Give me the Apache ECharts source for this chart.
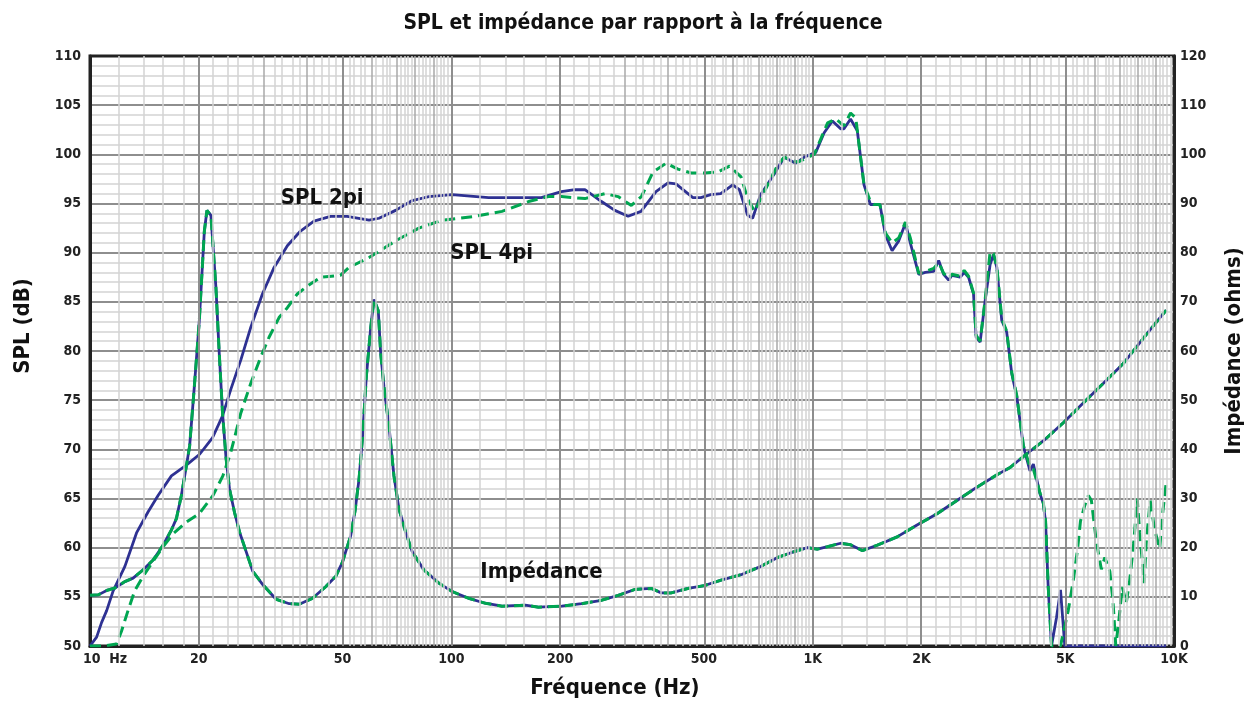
<!DOCTYPE html>
<html><head><meta charset="utf-8">
<script src="https://cdn.jsdelivr.net/npm/echarts@6/dist/echarts.min.js"></script>
<style>html,body{margin:0;padding:0;background:#fff}#c{width:1253px;height:704px}</style>
</head><body><div id="c"></div><script>
// ---- data (frequency in Hz, SPL in dB, impedance in ohms) ----
const spl2piFreq = [10,10.43,10.77,11.12,11.59,12.49,13.45,14.46,15.43,16.80,18.48,20.11,21.85,23.27,24.53,26.15,27.85,30.0,32.32,35.17,38.25,41.67,46.3,51.46,59.19,63.08,70.1,77.93,86.64,100.5,126.8,177.5,201.6,219.9,234.3,260.4,283.4,308.5,335.0,368.5,397.7,418.4,466.1,490.3,522.4,556.7,600.7,626.9,660.8,682.0,717.5,782.8,834.0,897.6,946.6,1020,1076,1134,1195,1221,1273,1329,1387,1445,1477,1535,1590,1659,1731,1806,1863,1966,2050,2162,2232,2304,2379,2429,2560,2626,2701,2787,2834,2907,3001,3098,3165,3233,3337,3444,3556,3671,3830,3994,4081,4255,4347,4412,4487,4582,4730,4852,4986,9517];
const spl2piDb = [50,50.9,52.4,53.6,55.6,58.1,61.5,63.6,65.3,67.3,68.4,69.5,71.2,73.4,76.1,79.1,82.4,85.8,88.5,90.7,92.2,93.2,93.7,93.7,93.3,93.5,94.3,95.3,95.7,95.9,95.6,95.6,96.2,96.4,96.4,95.2,94.3,93.7,94.2,96.2,97.1,97.0,95.6,95.6,95.9,96.0,96.9,96.4,93.8,93.5,95.9,98.0,99.7,99.1,99.7,100.2,102.2,103.4,102.6,102.6,103.6,102.4,96.9,94.9,94.9,94.9,91.8,90.2,91.2,93.0,91.0,87.8,88.0,88.1,89.2,87.8,87.2,87.7,87.5,88.0,87.5,85.8,81.4,80.9,85.1,88.8,89.8,88.5,83.1,81.9,77.7,75.4,70.3,67.8,68.5,65.5,64.5,62.6,55.9,50,52.9,55.7,50,50];

const spl4piFreq = [10,10.86,11.84,12.22,12.74,13.29,14.03,14.94,15.93,16.97,18.48,20.11,21.89,23.32,24.53,26.15,27.85,29.7,31.3,33.36,35.17,37.48,39.94,43.44,49.31,52.1,59.19,70.1,81.3,94.3,116.6,138.1,163.6,185.8,201.7,234.3,266,289.4,314.9,335.7,361.6,393.2,423.8,461.2,502.1,546.4,588.6,633.6,660.8,690.1,751,799.9,834,909,1010,1100,1159,1221,1273,1316,1387,1445,1477,1535,1590,1659,1731,1806,1863,1966,2050,2162,2232,2304,2379,2429,2560,2626,2701,2787,2834,2907,3001,3098,3165,3233,3337,3444,3556,3671,3830,3994,4081,4255,4347,4412,4487,4582,4852,4883,5096,5260,5407,5510,5663,5796,5907,6098,6294,6435,6643,6778,6901,7033,7192,7377,7532,7737,7911,8038,8270,8377,8593,8842,9127,9303,9512];
const spl4piDb = [50,50,50.2,51.5,53.6,55.6,57.1,58.6,60.1,61.4,62.6,63.5,65.3,67.3,69.7,73.7,76.7,79.4,81.4,83.4,84.4,85.8,86.6,87.5,87.7,88.5,89.5,91.2,92.5,93.3,93.7,94.2,95.2,95.7,95.7,95.5,96.0,95.7,94.8,95.7,98.2,99.1,98.5,98.1,98.1,98.2,98.8,97.7,95.5,94.2,96.9,98.9,99.7,99.2,100.0,103.2,103.6,102.9,104.2,103.7,96.9,95.2,94.9,94.9,92.0,91.0,91.5,93.1,91.5,87.9,88.1,88.4,89.0,87.9,87.4,87.8,87.6,88.2,87.6,85.9,81.6,81.0,85.2,90.1,89.9,88.6,83.3,82.0,77.8,75.5,70.4,68.2,68.0,65.6,64.6,62.7,56.0,50,50,50.5,53.6,56.6,59.8,62.7,64.3,65.3,64.8,60.6,57.8,59.0,57.6,54.6,50.0,52.5,56.0,54.4,56.5,60.5,65.0,61.5,56.4,60.5,64.8,61.8,59.9,63.5,66.6];

const impFreq = [10,10.54,11.12,11.72,12.49,13.16,14.03,14.95,15.93,16.8,17.34,17.9,18.48,18.87,19.44,20.07,20.72,21.07,21.61,22.31,22.79,23.27,23.79,24.32,25.11,25.93,27.05,28.21,30.06,32.73,35.61,37.95,41.29,44.96,47.91,49.94,52.69,54.15,55.54,56.72,58.18,59.83,61.09,62.78,63.75,65.1,67.2,69.37,71.6,74.71,77.92,83.9,92.3,100.4,111.7,124.2,138,160.1,174.2,202,229.4,260.4,289.5,321.9,357.7,381.1,406.2,451.6,502.2,558,633.6,719.3,799.5,889.2,967.6,1031,1099,1195,1272,1372,1509,1713,1945,2209,2508,2848,3233,3518,3869,4348,4938,5608,6368,7228,7866,8650,9517];
const impOhm = [10.3,10.4,11.3,11.8,13.1,13.8,15.5,17.5,20.5,23.6,25.9,30.6,36.6,40.7,52.7,66.2,84.3,88.6,87.6,72.9,59.5,47.4,38.3,32.0,27.2,23.2,19.2,15.2,12.5,9.5,8.6,8.5,9.7,12.1,14.2,17.0,22.5,27.5,34.0,42.0,54.8,64.8,70.5,68.2,59.5,52.7,44.7,34.6,27.9,23.2,19.2,15.5,12.8,11.1,9.7,8.7,8.1,8.3,7.9,8.1,8.6,9.3,10.3,11.5,11.7,10.8,10.8,11.7,12.3,13.4,14.5,16.2,18.0,19.2,20.0,19.7,20.2,20.9,20.6,19.4,20.5,22.2,24.6,26.9,29.6,32.3,34.8,36.3,38.8,41.7,45.4,49.4,53.4,57.4,60.8,64.6,68.3];

const xTickFreqs = [10,20,50,100,200,500,1000,2000,5000,10000];
const xTickLabels = ['10  Hz','20','50','100','200','500','1K','2K','5K','10K'];
const annotationLabels = ['SPL 2pi','SPL 4pi','Impédance'];

// ---- chart ----
const FONT = "'Liberation Sans Narrow','DejaVu Sans Condensed','Roboto Condensed',Roboto,sans-serif";
const BLUE = '#2e3192', GREEN = '#00a651';
const pairs = (fs, vs) => fs.map((f, i) => [Math.log10(f), vs[i]]);

const vLines = [];
for (const d of [10, 100, 1000]) {
  for (let k = 10; k < 100; k += 2) {
    if (d === 10 && k === 10) continue;
    const f = d * k / 10;
    const major = (k === 10 || k === 20 || k === 50);
    const medium = (k % 10 === 0);
    vLines.push({
      xAxis: Math.log10(f),
      lineStyle: { color: major ? '#8e8e8e' : (medium ? '#a9a9a9' : '#d3d3d3'), width: major ? 2 : 1.5, type: 'solid' }
    });
  }
}

const chart = echarts.init(document.getElementById('c'), null, { renderer: 'canvas' });
const labelStyle = { fontFamily: FONT, fontWeight: 'bold', fontSize: 14, color: '#222' };
const nameStyle = { fontFamily: FONT, fontWeight: 'bold', fontSize: 22, color: '#111' };

chart.setOption({
  animation: false,
  backgroundColor: '#fff',
  title: {
    text: 'SPL et impédance par rapport à la fréquence',
    left: 638, top: 8, textAlign: 'center',
    textStyle: { fontFamily: FONT, fontWeight: 'bold', fontSize: 21, color: '#111' }
  },
  grid: { left: 90, right: 75, top: 56, bottom: 52, show: true, borderColor: '#222', borderWidth: 3, backgroundColor: '#fff' },
  xAxis: {
    type: 'value', min: 1, max: 4,
    name: 'Fréquence (Hz)', nameLocation: 'middle', nameGap: 31,
    nameTextStyle: Object.assign({}, nameStyle, { padding: [0, 34, 0, 0] }),
    axisLine: { show: true, lineStyle: { color: '#222', width: 3 } },
    axisTick: { show: false },
    splitLine: { show: false },
    axisLabel: Object.assign({}, labelStyle, {
      margin: 6,
      customValues: xTickFreqs.map(f => Math.log10(f)),
      formatter: function (v) {
        for (let i = 0; i < xTickFreqs.length; i++) {
          if (Math.abs(Math.log10(xTickFreqs[i]) - v) < 1e-6) {
            return i === 0 ? '{hz|' + xTickLabels[i] + '}' : xTickLabels[i];
          }
        }
        return '';
      },
      rich: { hz: Object.assign({}, labelStyle, { padding: [0, 0, 0, 30] }) }
    })
  },
  yAxis: [{
    type: 'value', min: 50, max: 110, interval: 5, position: 'left',
    name: 'SPL (dB)', nameLocation: 'middle', nameGap: 56, nameRotate: 90,
    nameTextStyle: Object.assign({}, nameStyle, { padding: [0, 0, 0, 50] }),
    axisLine: { show: true, lineStyle: { color: '#222', width: 3 } },
    axisTick: { show: false },
    axisLabel: Object.assign({}, labelStyle, { margin: 9 }),
    splitLine: { show: true, showMinLine: false, showMaxLine: false, lineStyle: { color: '#8e8e8e', width: 2 } },
    minorTick: { show: false, splitNumber: 5 },
    minorSplitLine: { show: true, lineStyle: { color: '#d3d3d3', width: 1.5 } }
  }, {
    type: 'value', min: 0, max: 120, interval: 10, position: 'right',
    name: 'Impédance (ohms)', nameLocation: 'middle', nameGap: 49, nameRotate: 90,
    nameTextStyle: nameStyle,
    axisLine: { show: true, lineStyle: { color: '#222', width: 3 } },
    axisTick: { show: false },
    axisLabel: Object.assign({}, labelStyle, { margin: 6 }),
    splitLine: { show: false }
  }],
  series: [
    {
      name: 'gridLines', type: 'line', data: [], z: 1, silent: true,
      markLine: { silent: true, symbol: ['none', 'none'], label: { show: false }, animation: false, data: vLines }
    },
    {
      name: 'SPL 2pi', type: 'line', yAxisIndex: 0, z: 3, showSymbol: false, silent: true,
      data: pairs(spl2piFreq, spl2piDb),
      lineStyle: { color: BLUE, width: 2.8 },
      markPoint: {
        symbol: 'circle', symbolSize: 0, silent: true,
        label: { show: true, position: 'inside', formatter: '{b}', fontFamily: FONT, fontWeight: 'bold', fontSize: 22, color: '#111' },
        data: [
          { name: annotationLabels[0], coord: [Math.log10(43.9), 95.5] },
          { name: annotationLabels[1], coord: [Math.log10(129.3), 89.9] },
          { name: annotationLabels[2], coord: [Math.log10(177.6), 57.45] }
        ]
      }
    },
    {
      name: 'Impédance 2pi', type: 'line', yAxisIndex: 1, z: 3, showSymbol: false, silent: true,
      data: pairs(impFreq, impOhm),
      lineStyle: { color: BLUE, width: 2.8 }
    },
    {
      name: 'SPL 4pi', type: 'line', yAxisIndex: 0, z: 4, showSymbol: false, silent: true,
      data: pairs(spl4piFreq, spl4piDb),
      lineStyle: { color: GREEN, width: 3, type: [11, 6] }
    },
    {
      name: 'Impédance 4pi', type: 'line', yAxisIndex: 1, z: 4, showSymbol: false, silent: true,
      data: pairs(impFreq, impOhm),
      lineStyle: { color: GREEN, width: 3, type: [11, 6] }
    }
  ]
});
</script></body></html>
